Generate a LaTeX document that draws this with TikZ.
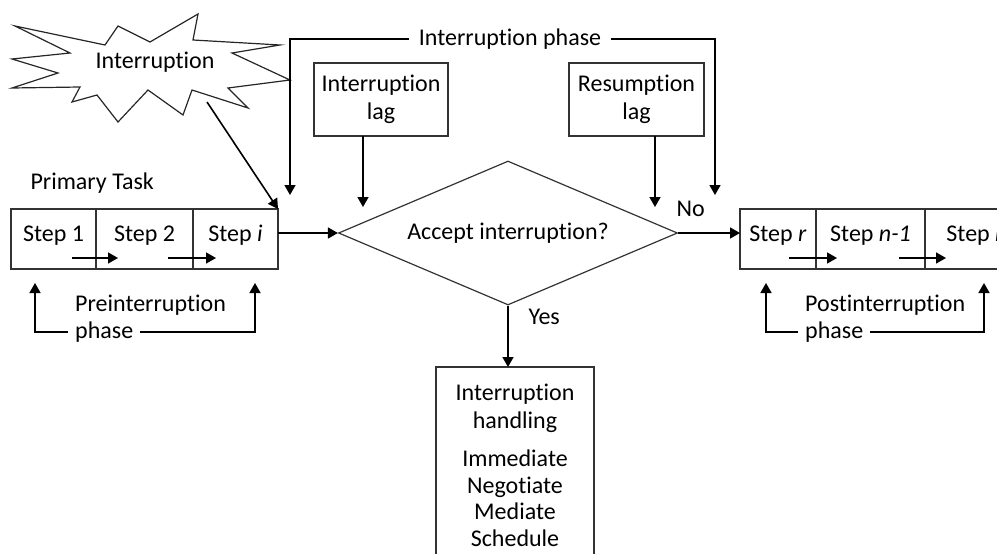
\documentclass[tikz,border=0pt]{standalone}
\usepackage{fontspec}
\setmainfont{Carlito}[Ligatures=NoCommon]
\usepackage{tikz}
\usetikzlibrary{calc,positioning,shapes.geometric,arrows.meta}

\tikzset{
  box/.style={draw=black!80, line width=1.2pt, rectangle, align=center, inner sep=0pt, outer sep=0pt},
  stepbox/.style={box, minimum height=60pt, text height=16pt, text depth=12pt},
  tip/.style={-{Triangle[length=10pt,width=11pt]}, line width=1.6pt},
}

\begin{document}
\begin{tikzpicture}[x=1pt,y=-1pt,font=\fontsize{24}{28}\selectfont]
  \clip (0,0) rectangle (997,554);

  \draw[line width=1.2pt, draw=black!85] (15,26) -- (105,45) -- (118,26) -- (150,42) -- (198,14) -- (193,40)
    -- (280,45) -- (232,53) -- (290,80) -- (228,88) -- (248,108) -- (192,90) -- (183,115) -- (148,90)
    -- (118,122) -- (97,95) -- (72,102) -- (80,87) -- (12,88) -- (58,73) -- (12,59) -- (70,53) -- cycle;
  \node (burst) at (155,62) {Interruption};
  \coordinate (bt) at (207,102);

  \node[anchor=west] (task) at (27,183) {Primary Task};
  \node[stepbox, minimum width=85pt] (s1) at (53.5,239) {Step 1};
  \node[stepbox, minimum width=97pt, right=0pt of s1] (s2) {Step 2};
  \node[stepbox, minimum width=85pt, right=0pt of s2] (si) {Step \textit{i}};
  \draw[tip] ($(s1.south east)+(-24,-11)$) -- ($(s2.south west)+(22,-11)$);
  \draw[tip] ($(s2.south east)+(-25,-11)$) -- ($(si.south west)+(23,-11)$);

  \node[draw=black!80, line width=1.2pt, diamond, aspect=2.35, minimum width=339pt, minimum height=144pt, inner sep=0pt] (acc) at (508,233) {Accept interruption?};
  \node[anchor=west] (no) at (673,209) {No};
  \node[anchor=west] (yes) at (525,317) {Yes};

  \node[stepbox, minimum width=76pt] (sr) at (778,239) {Step \textit{r}};
  \node[stepbox, minimum width=109pt, right=0pt of sr] (sn1) {Step \textit{n-1}};
  \node[stepbox, minimum width=104pt, right=0pt of sn1] (sn) {Step \textit{n}};
  \draw[tip] ($(sr.south east)+(-27,-11)$) -- ($(sn1.south west)+(21,-11)$);
  \draw[tip] ($(sn1.south east)+(-26,-11)$) -- ($(sn.south west)+(21,-11)$);

  \node[box, minimum width=134pt, minimum height=73pt] (ilag) at (381,99.5) {Interruption\\lag};
  \node[box, minimum width=135pt, minimum height=73pt] (rlag) at (636.5,99.5) {Resumption\\lag};
  \coordinate (ilag-in) at (363,207);
  \coordinate (rlag-in) at (655,207);
  \draw[tip] (ilag.south -| ilag-in) -- (ilag-in);
  \draw[tip] (rlag.south -| rlag-in) -- (rlag-in);

  \node[inner sep=10pt] (iph) at (510,39) {Interruption phase};
  \coordinate (iph-l) at (290,195);
  \coordinate (iph-r) at (715,195);
  \draw[tip] (iph.west) -| (iph-l);
  \draw[tip] (iph.east) -| (iph-r);

  \node[box, anchor=north, minimum width=158pt, inner ysep=17pt, font=\fontsize{24}{26.5}\selectfont] (hand) at (515,367)
    {Interruption\\[1.5pt]handling\\[11.5pt]Immediate\\Negotiate\\Mediate\\Schedule};

  \draw[tip] (si.east |- acc.west) -- (acc.west);
  \draw[tip] (acc.east) -- (acc.east -| sr.west);
  \draw[tip] (acc.south) -- (acc.south |- hand.north);
  \draw[tip] (bt) -- (si.north east);

  \node[anchor=west, inner sep=0pt] (pre) at (75,305) {Preinterruption};
  \node[anchor=west, inner sep=7pt] (preph) at (68,332) {phase};
  \coordinate (pre-l) at (35,283);
  \coordinate (pre-r) at (255,283);
  \draw[tip] (preph.west) -| (pre-l);
  \draw[tip] (preph.east) -| (pre-r);

  \node[anchor=west, inner sep=0pt] (post) at (805,305) {Postinterruption};
  \node[anchor=west, inner sep=7pt] (postph) at (798,332) {phase};
  \coordinate (post-l) at (766,283);
  \coordinate (post-r) at (984,283);
  \draw[tip] (postph.west) -| (post-l);
  \draw[tip] (postph.east) -| (post-r);
\end{tikzpicture}
\end{document}
